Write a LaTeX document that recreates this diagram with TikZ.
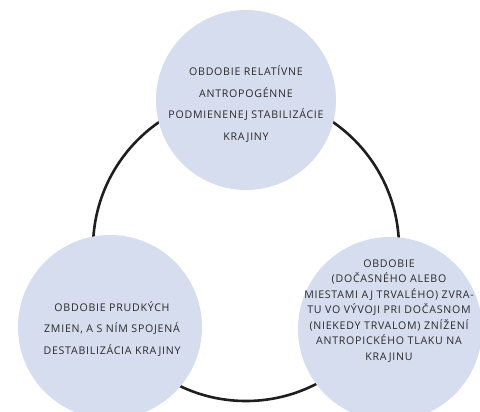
\documentclass[tikz,border=0pt]{standalone}
\usepackage{fontspec}
\setmainfont{Open Sans}[LetterSpace=7]
\usepackage{tikz}
\definecolor{phasefill}{HTML}{D6DDEE}
\definecolor{phaseink}{HTML}{2A2A2A}
\definecolor{ringink}{HTML}{1E1E1E}

\begin{document}
\begin{tikzpicture}[x=1pt,y=-1pt,
  phase/.style={circle,fill=phasefill,inner sep=0pt,minimum size=#1},
  phasetext/.style={align=center,text=phaseink,font=\fontsize{10.6}{21.5}\selectfont},
  densetext/.style={phasetext,font=\fontsize{10.6}{15.5}\selectfont},
  cyclering/.style={draw=ringink,line width=2.6pt}]
  \useasboundingbox (0,0) rectangle (480,412);
  \coordinate (hub) at (246,248);
  \draw[cyclering] (hub) circle (153pt);
  \node[phase=180pt,label={[phasetext,yshift=-4pt]center:OBDOBIE RELATÍVNE\\ANTROPOGÉNNE\\PODMIENENEJ STABILIZÁCIE\\KRAJINY}] (stab) at (246,100) {};
  \node[phase=184pt,label={[phasetext,xshift=2pt,yshift=-2pt]center:OBDOBIE PRUDKÝCH\\ZMIEN, A S NÍM SPOJENÁ\\DESTABILIZÁCIA KRAJINY}] (destab) at (110,327) {};
  \node[phase=184pt,label={[densetext,xshift=-1pt,yshift=18pt]center:OBDOBIE\\(DOČASNÉHO ALEBO\\MIESTAMI AJ TRVALÉHO) ZVRA-\\TU VO VÝVOJI PRI DOČASNOM\\(NIEKEDY TRVALOM) ZNÍŽENÍ\\ANTROPICKÉHO TLAKU NA\\KRAJINU}] (zvrat) at (390,329) {};
\end{tikzpicture}
\end{document}
